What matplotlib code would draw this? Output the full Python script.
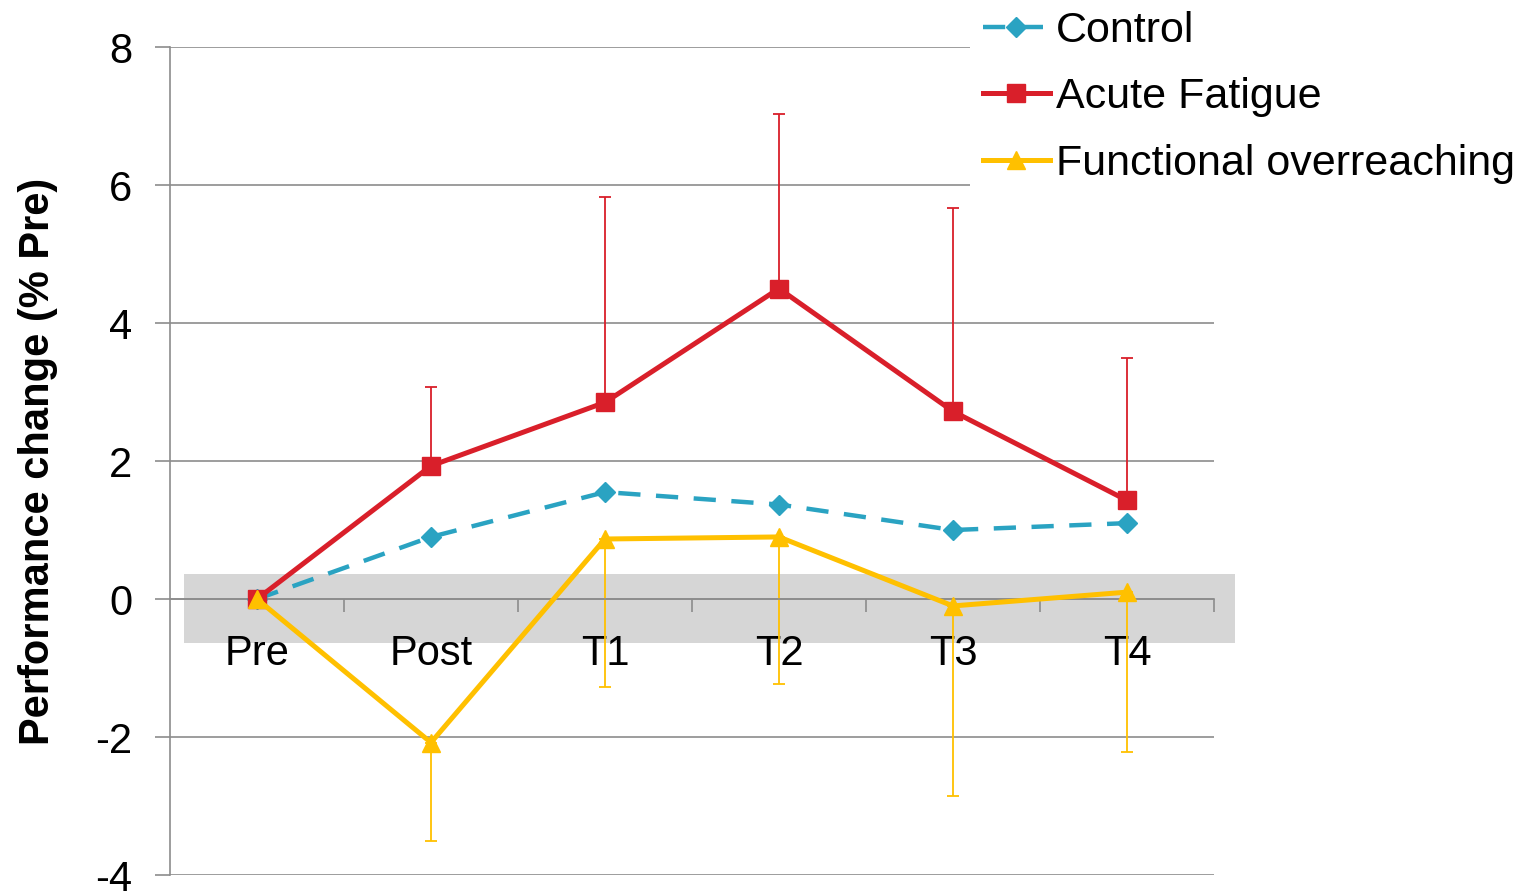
import matplotlib.pyplot as plt
from matplotlib.patches import Rectangle

plt.rcParams['font.family'] = ['Liberation Sans', 'DejaVu Sans']

# data
timepoints = ['Pre', 'Post', 'T1', 'T2', 'T3', 'T4']
control = [0, 0.9, 1.55, 1.37, 1.0, 1.1]
acute = [0, 1.93, 2.85, 4.5, 2.72, 1.43]
acute_err_up = [0, 1.14, 2.98, 2.53, 2.95, 2.07]
fo = [0, -2.08, 0.87, 0.9, -0.1, 0.1]
fo_err_down = [0, 1.42, 2.15, 2.13, 2.75, 2.32]

c_control = '#2AA3C2'
c_acute = '#D91F2A'
c_fo = '#FFC000'

fig = plt.figure(figsize=(15.26, 8.92), dpi=100)
ax = fig.add_axes([0.1114, 0.019, 0.6841, 0.9283])

x = list(range(len(timepoints)))

# grey band around zero (extends a little outside the axes)
ax.add_patch(Rectangle((-0.42, -0.64), 6.04, 1.0, facecolor='#D6D6D6',
                       edgecolor='none', zorder=0.5, clip_on=False))

ax.plot(x, control, color=c_control, lw=3.2, ls=(0, (5, 3.5)), marker='D',
        ms=10, label='Control', zorder=3)
ax.errorbar(x[1:], acute[1:], yerr=[[0] * 5, acute_err_up[1:]], fmt='none',
            ecolor=c_acute, elinewidth=1.3, capsize=4, capthick=1.3, zorder=2)
ax.plot(x, acute, color=c_acute, lw=3.6, marker='s', ms=13.5,
        label='Acute Fatigue', zorder=4)
ax.errorbar(x[1:], fo[1:], yerr=[fo_err_down[1:], [0] * 5], fmt='none',
            ecolor=c_fo, elinewidth=1.3, capsize=4, capthick=1.3, zorder=2)
ax.plot(x, fo, color=c_fo, lw=3.6, marker='^', ms=13.5,
        label='Functional overreaching', zorder=5)

ax.set_xlim(-0.5, 5.5)
ax.set_ylim(-4, 8)
ax.set_yticks([-4, -2, 0, 2, 4, 6, 8])
ax.set_yticklabels(['-4', '-2', '0', '2', '4', '6', '8'])
ax.grid(axis='y', color='#8C8C8C', lw=1.2, zorder=1)
ax.set_axisbelow(True)

ax.set_xticks(x)
ax.set_xticklabels(timepoints)
ax.set_xticks([0.5, 1.5, 2.5, 3.5, 4.5, 5.5], minor=True)
ax.tick_params(axis='x', which='major', length=0, pad=25, labelsize=30)
ax.tick_params(axis='x', which='minor', length=9, width=1.2, color='#8C8C8C',
               direction='out')
ax.tick_params(axis='y', length=11, width=1.2, color='#8C8C8C', pad=16,
               labelsize=30)

ax.spines['top'].set_visible(False)
ax.spines['right'].set_visible(False)
ax.spines['bottom'].set_position(('data', 0))
ax.spines['bottom'].set_color('#8C8C8C')
ax.spines['bottom'].set_linewidth(1.2)
ax.spines['left'].set_color('#8C8C8C')
ax.spines['left'].set_linewidth(1.2)

ax.set_ylabel('Performance change (% Pre)', fontsize=30, fontweight='bold',
              labelpad=27)

leg = fig.legend(loc='upper left', bbox_to_anchor=(0.6356, 1.002), fontsize=31,
                 frameon=True, fancybox=False, edgecolor='none',
                 facecolor='white', framealpha=1, handlelength=1.55,
                 handletextpad=0.14, labelspacing=0.61, borderaxespad=0,
                 borderpad=0.3)

fig.savefig('out.png', dpi=100)
